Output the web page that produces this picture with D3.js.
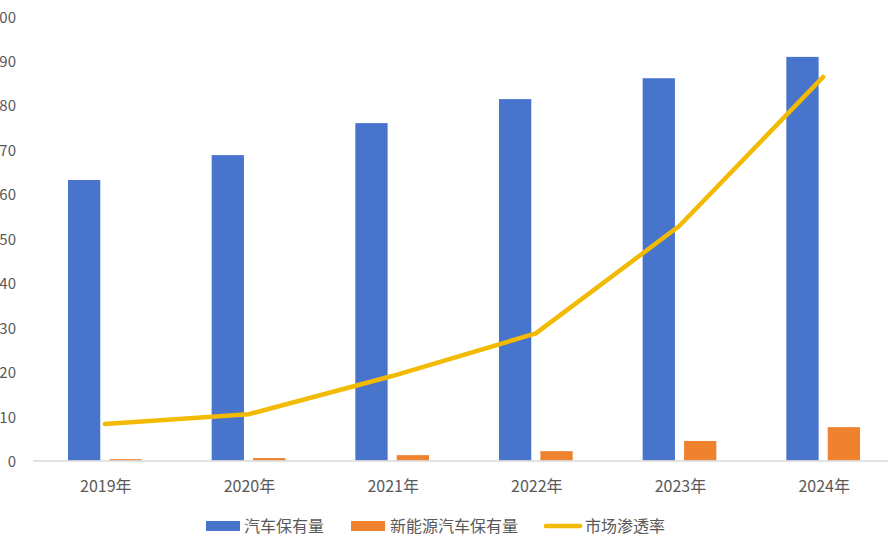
<!DOCTYPE html>
<html>
<head>
<meta charset="utf-8">
<script src="https://cdn.jsdelivr.net/npm/d3@7"></script>
<style>
  html, body { margin: 0; padding: 0; background: #fff; }
  svg { display: block; font-family: "Noto Sans CJK SC", "Noto Sans", sans-serif; }
</style>
</head>
<body>
<svg id="chart" width="888" height="549"></svg>
<script>
const years = ["2019年", "2020年", "2021年", "2022年", "2023年", "2024年"];
const carStock = [63.1, 68.7, 75.9, 81.3, 86.0, 90.8];
const nevStock = [0.3, 0.55, 1.2, 2.1, 4.4, 7.5];
const penetration = [8.2, 10.4, 19.0, 28.6, 52.8, 86.3];
const yTicks = [0, 10, 20, 30, 40, 50, 60, 70, 80, 90, 100];
const seriesNames = ["汽车保有量", "新能源汽车保有量", "市场渗透率"];
const colors = ["#4874CB", "#EE822F", "#F2BA02"];

const svg = d3.select("#chart");
const textColor = "#595959";

const x = d3.scaleBand().domain(years).range([33, 895]).paddingInner(0).paddingOuter(0);
const bw = x.bandwidth();
const x1 = d3.scaleBand().domain([0, 1]).range([bw * 0.2435, bw * 0.7565]).paddingInner(0.22);
const y = d3.scaleLinear().domain([0, 100]).range([460.5, 16]);

// y tick labels (no axis line, no gridlines)
svg.append("g").selectAll("text").data(yTicks).join("text")
  .attr("x", 16).attr("y", d => y(d))
  .attr("text-anchor", "end").attr("dominant-baseline", "central")
  .attr("font-size", 15).attr("fill", textColor)
  .text(d => d);

// bars
const barSeries = [carStock, nevStock];
barSeries.forEach((vals, si) => {
  svg.append("g").selectAll("rect").data(vals).join("rect")
    .attr("x", (d, i) => x(years[i]) + x1(si))
    .attr("width", x1.bandwidth())
    .attr("y", d => y(d))
    .attr("height", d => y(0) - y(d))
    .attr("fill", colors[si]);
});

// x axis line
svg.append("line")
  .attr("x1", 33).attr("x2", 895)
  .attr("y1", y(0) + 0.5).attr("y2", y(0) + 0.5)
  .attr("stroke", "#D9D9D9").attr("stroke-width", 1.5);

// x labels
svg.append("g").selectAll("text").data(years).join("text")
  .attr("x", d => x(d) + bw / 2 + 1).attr("y", 492)
  .attr("text-anchor", "middle")
  .attr("font-size", 16).attr("fill", textColor)
  .text(d => d);

// line
const line = d3.line()
  .x((d, i) => x(years[i]) + bw / 2)
  .y(d => y(d))
  .curve(d3.curveLinear);
svg.append("path").datum(penetration)
  .attr("d", line)
  .attr("fill", "none").attr("stroke", colors[2])
  .attr("stroke-width", 4.5).attr("stroke-linecap", "round").attr("stroke-linejoin", "round");

// legend
const legend = svg.append("g");
const lg = [
  { sx: 206, tx: 244, type: "rect" },
  { sx: 351, tx: 390, type: "rect" },
  { sx: 544, tx: 585, type: "line" }
];
lg.forEach((l, i) => {
  if (l.type === "rect") {
    legend.append("rect").attr("x", l.sx).attr("y", 521).attr("width", 34).attr("height", 10).attr("fill", colors[i]);
  } else {
    legend.append("line").attr("x1", l.sx + 2).attr("x2", l.sx + 36).attr("y1", 526).attr("y2", 526)
      .attr("stroke", colors[i]).attr("stroke-width", 4.5).attr("stroke-linecap", "round");
  }
  legend.append("text").attr("x", l.tx).attr("y", 525)
    .attr("dominant-baseline", "central")
    .attr("font-size", 16).attr("fill", textColor)
    .text(seriesNames[i]);
});
</script>
</body>
</html>
